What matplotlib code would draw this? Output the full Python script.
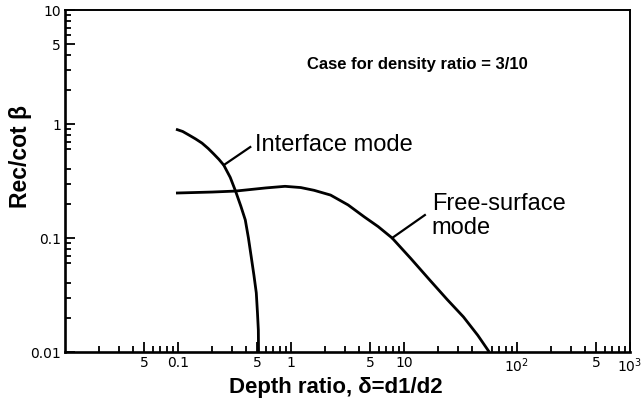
import matplotlib
matplotlib.use("Agg")
import matplotlib.pyplot as plt
from matplotlib.ticker import FixedLocator, NullFormatter, LogLocator

# Interface mode curve (depth ratio, Rec/cot beta)
interface_x = [0.096, 0.11, 0.125, 0.143, 0.163, 0.185, 0.207, 0.23, 0.254, 0.29,
               0.323, 0.36, 0.394, 0.42, 0.445, 0.47, 0.493, 0.505, 0.514, 0.516]
interface_y = [0.90, 0.86, 0.80, 0.74, 0.68, 0.61, 0.546, 0.49, 0.436, 0.34,
               0.258, 0.19, 0.144, 0.10, 0.068, 0.047, 0.033, 0.022, 0.0156, 0.01]

# Free-surface mode curve
free_x = [0.096, 0.2, 0.323, 0.6, 0.885, 1.22, 1.6, 2.24, 3.2, 4.46, 5.9, 7.85,
          11.5, 16.9, 24.0, 33.6, 45.0, 56.8]
free_y = [0.248, 0.253, 0.258, 0.275, 0.284, 0.277, 0.262, 0.238, 0.195, 0.153,
          0.126, 0.100, 0.066, 0.0428, 0.029, 0.0203, 0.014, 0.01]

x_ticks = [0.05, 0.1, 0.5, 1, 5, 10, 100, 500, 1000]
x_ticklabels = ["5", "0.1", "5", "1", "5", "10", "10$^2$", "5", "10$^3$"]
y_ticks = [0.01, 0.1, 1, 5, 10]
y_ticklabels = ["0.01", "0.1", "1", "5", "10"]

plt.rcParams["font.family"] = ["Liberation Sans", "DejaVu Sans"]

fig = plt.figure(figsize=(6.42, 4.01), dpi=100)
ax = fig.add_axes([65 / 642, 49 / 401, 565 / 642, 342 / 401])

ax.set_xscale("log")
ax.set_yscale("log")
ax.set_xlim(0.01, 1000)
ax.set_ylim(0.01, 10)

ax.plot(interface_x, interface_y, color="black", lw=2.0, solid_capstyle="butt",
        solid_joinstyle="round")
ax.plot(free_x, free_y, color="black", lw=2.0, solid_capstyle="butt",
        solid_joinstyle="round")

# Leader lines and curve labels
ax.plot([0.254, 0.436], [0.436, 0.628], color="black", lw=1.6)
ax.text(0.483, 0.655, "Interface mode", fontsize=17, ha="left", va="center")
ax.plot([7.85, 15.3], [0.100, 0.159], color="black", lw=1.6)
ax.text(17.6, 0.156, "Free-surface\nmode", fontsize=17, ha="left", va="center",
        linespacing=1.1)

ax.text(0.623, 0.842, "Case for density ratio = 3/10", transform=ax.transAxes,
        fontsize=12, fontweight="bold", ha="center", va="center")

# Axes styling
for side in ["left", "bottom"]:
    ax.spines[side].set_linewidth(1.9)
for side in ["top", "right"]:
    ax.spines[side].set_linewidth(1.4)

ax.xaxis.set_major_locator(FixedLocator(x_ticks))
ax.set_xticklabels(x_ticklabels)
ax.yaxis.set_major_locator(FixedLocator(y_ticks))
ax.set_yticklabels(y_ticklabels)
ax.xaxis.set_minor_locator(LogLocator(base=10, subs=[2, 3, 4, 6, 7, 8, 9]))
ax.yaxis.set_minor_locator(LogLocator(base=10, subs=[2, 3, 4, 6, 7, 8, 9]))
ax.xaxis.set_minor_formatter(NullFormatter())
ax.yaxis.set_minor_formatter(NullFormatter())

ax.tick_params(which="both", direction="in", top=False, right=False,
               width=1.3, colors="black")
ax.tick_params(which="major", length=7, labelsize=10, pad=3)
ax.tick_params(which="minor", length=4)
for lbl in ax.get_xticklabels() + ax.get_yticklabels():
    lbl.set_family(["DejaVu Sans"])

ax.set_xlabel("Depth ratio, δ=d1/d2", fontsize=16, fontweight="bold")
ax.set_ylabel("Rec/cot β", fontsize=16.5, fontweight="bold")
ax.xaxis.set_label_coords(0.480, -0.072)
ax.yaxis.set_label_coords(-0.058, 0.573)

fig.savefig("out.png", dpi=100)
